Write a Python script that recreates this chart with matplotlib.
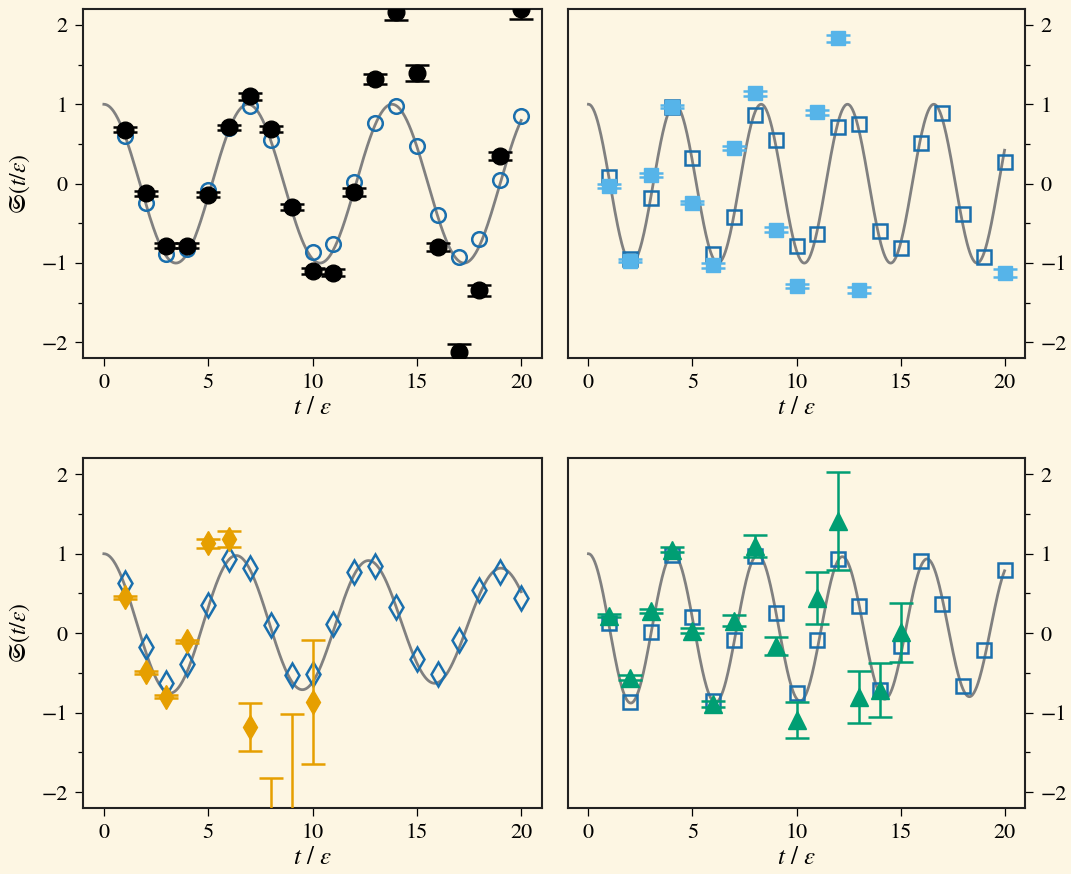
import numpy as np
import matplotlib.pyplot as plt
from matplotlib.ticker import MultipleLocator

plt.rcParams['font.family'] = ['STIXGeneral', 'Liberation Serif', 'DejaVu Serif']
plt.rcParams['mathtext.fontset'] = 'stix'
plt.rcParams['font.size'] = 15

BG = '#fdf6e3'
CURVE = '#808080'
OPEN = '#1a6fad'

t_all = np.arange(1, 21)

# panel (a): black circles
a_open = [0.60, -0.24, -0.89, -0.82, -0.08, 0.70, 0.98, 0.55, -0.30, -0.86,
          -0.76, 0.02, 0.76, 0.98, 0.47, -0.39, -0.92, -0.70, 0.04, 0.85]
a_t = np.arange(1, 21)
a_val = [0.68, -0.12, -0.78, -0.78, -0.14, 0.71, 1.10, 0.69, -0.29, -1.10,
         -1.12, -0.10, 1.32, 2.16, 1.39, -0.80, -2.12, -1.34, 0.35, 2.20]
a_err = [0.03, 0.03, 0.03, 0.03, 0.03, 0.03, 0.04, 0.04, 0.04, 0.04,
         0.04, 0.05, 0.065, 0.10, 0.10, 0.05, 0.10, 0.07, 0.05, 0.12]

# panel (b): sky blue squares
b_open = [0.08, -0.95, -0.18, 0.97, 0.32, -0.89, -0.42, 0.86, 0.55, -0.78,
          -0.64, 0.71, 0.75, -0.60, -0.81, 0.51, 0.89, -0.38, -0.92, 0.27]
b_t = [1, 2, 3, 4, 5, 6, 7, 8, 9, 10, 11, 12, 13, 20]
b_val = [-0.03, -0.97, 0.11, 0.97, -0.24, -1.03, 0.45, 1.14, -0.58, -1.29,
         0.90, 1.83, -1.34, -1.13]
b_err = [0.02, 0.02, 0.02, 0.02, 0.02, 0.03, 0.03, 0.03, 0.03, 0.03,
         0.03, 0.04, 0.04, 0.05]

# panel (c): orange diamonds
c_open = [0.63, -0.17, -0.63, -0.39, 0.36, 0.94, 0.82, 0.10, -0.52, -0.51,
          0.12, 0.77, 0.85, 0.33, -0.32, -0.51, -0.09, 0.54, 0.77, 0.44]
c_t = [1, 2, 3, 4, 5, 6, 7, 8, 9, 10]
c_val = [0.45, -0.49, -0.80, -0.10, 1.13, 1.19, -1.18, -2.50, -2.50, -0.87]
c_err = [0.02, 0.02, 0.02, 0.02, 0.06, 0.10, 0.30, 0.68, 1.48, 0.78]

# panel (d): green triangles
d_open = [0.13, -0.87, 0.01, 0.98, 0.20, -0.85, -0.09, 0.97, 0.26, -0.75,
          -0.09, 0.94, 0.34, -0.72, -0.16, 0.91, 0.37, -0.66, -0.21, 0.80]
d_t = [1, 2, 3, 4, 5, 6, 7, 8, 9, 10, 11, 12, 13, 14, 15]
d_val = [0.22, -0.56, 0.28, 1.05, 0.03, -0.89, 0.16, 1.10, -0.16, -1.09,
         0.44, 1.41, -0.80, -0.72, 0.01]
d_err = [0.02, 0.03, 0.02, 0.03, 0.03, 0.04, 0.07, 0.14, 0.11, 0.23,
         0.33, 0.62, 0.33, 0.34, 0.37]

# model curves: offset + (1-offset) * exp(-decay t^2) * cos(omega t)
omegas = [0.91, 1.514, 0.9895, 1.544]
offsets = [0.0, 0.0, 0.12, 0.06]
decays = [0.0, 0.0, 0.000635, 0.00027]

panels = [
    (a_open, 'o', a_t, a_val, a_err, 'o', 'black', 12),
    (b_open, 's', b_t, b_val, b_err, 's', '#56B4E9', 10.5),
    (c_open, 'd', c_t, c_val, c_err, 'd', '#E69F00', 12.5),
    (d_open, 's', d_t, d_val, d_err, '^', '#009E73', 12.5),
]
open_sizes = {'o': 10.5, 's': 10.5, 'd': 12.5}

fig = plt.figure(figsize=(10.71, 8.74), dpi=100, facecolor=BG)
boxes = [
    [0.0775, 0.590, 0.4286, 0.3997],
    [0.530, 0.590, 0.4274, 0.3997],
    [0.0775, 0.0755, 0.4286, 0.4000],
    [0.530, 0.0755, 0.4274, 0.4000],
]

tt = np.linspace(0, 20, 600)
for i, (opn, omk, ft, fv, fe, fmk, fcol, fms) in enumerate(panels):
    ax = fig.add_axes(boxes[i])
    ax.set_facecolor(BG)
    curve = offsets[i] + (1 - offsets[i]) * np.exp(-decays[i] * tt**2) * np.cos(omegas[i] * tt)
    ax.plot(tt, curve, color=CURVE, lw=2.0, zorder=1)
    ax.plot(t_all, opn, ls='none', marker=omk, ms=open_sizes[omk], mfc='none',
            mec=OPEN, mew=1.8, zorder=2)
    ax.errorbar(ft, fv, yerr=fe, fmt=fmk, color=fcol, ms=fms, capsize=8.5,
                capthick=1.8, elinewidth=1.8, zorder=3)

    ax.set_xlim(-1, 21)
    ax.set_ylim(-2.2, 2.2)
    ax.set_xticks([0, 5, 10, 15, 20])
    ax.set_yticks([-2, -1, 0, 1, 2])
    ax.yaxis.set_minor_locator(MultipleLocator(0.5))
    ax.tick_params(which='major', length=6, width=0.9, pad=5, labelsize=16)
    ax.tick_params(which='minor', length=3.5, width=0.9)
    for s in ax.spines.values():
        s.set_linewidth(1.5)
        s.set_color('#222222')
    ax.set_xlabel(r'$t$ / $\varepsilon$', fontsize=18, labelpad=2)
    if i % 2 == 0:
        ax.set_ylabel(r'$\mathfrak{S}(t/\varepsilon)$', fontsize=17, labelpad=7)
    else:
        ax.yaxis.tick_right()

fig.savefig('out.png', dpi=100, facecolor=BG)
